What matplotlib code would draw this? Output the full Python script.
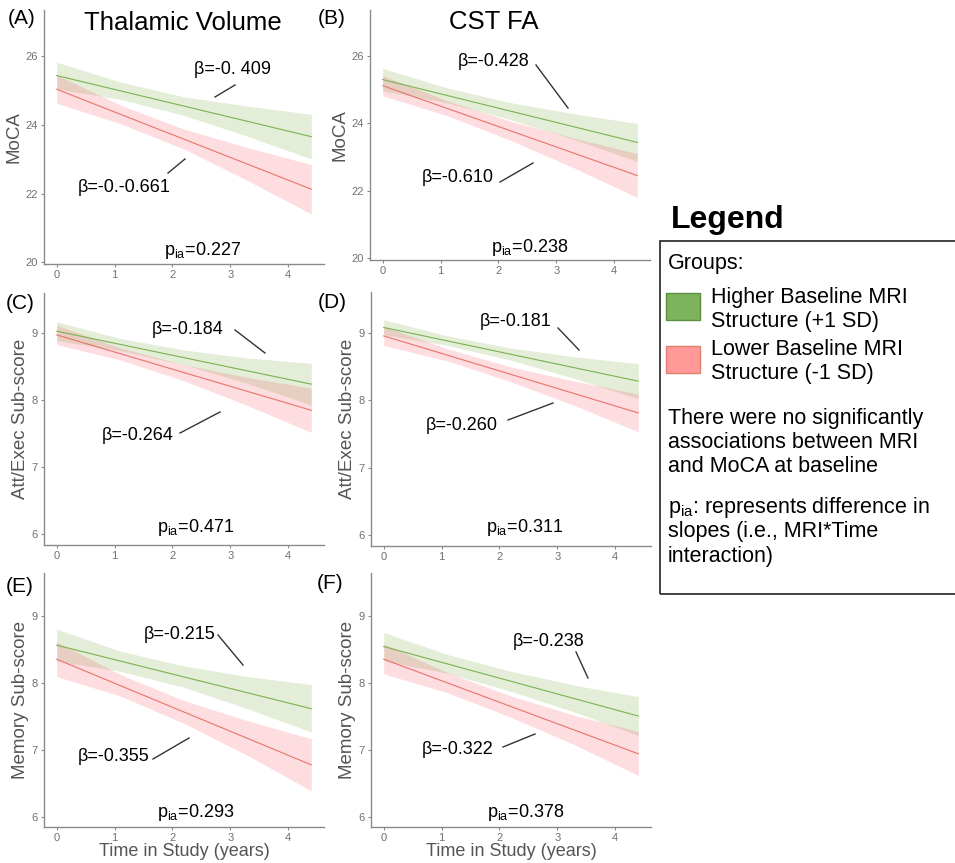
import matplotlib
matplotlib.use("Agg")
import matplotlib.pyplot as plt
from matplotlib.patches import Rectangle
from matplotlib.lines import Line2D

plt.rcParams['font.family'] = ['Liberation Sans', 'DejaVu Sans']
plt.rcParams['mathtext.fontset'] = 'custom'
plt.rcParams['mathtext.rm'] = 'Liberation Sans'
plt.rcParams['mathtext.it'] = 'Liberation Sans'

# ---- data ----
TIME = [0, 1.1, 2.2, 3.3, 4.4]          # points where the CI bands were read
LINE_T = [0, 4.4]                       # fitted lines run over the study period
X_TICKS = [0, 1, 2, 3, 4]
MOCA_TICKS = [20, 22, 24, 26]
SUB_TICKS = [6, 7, 8, 9]

# (A) Thalamic volume -> MoCA
A_HIGH_LINE = [25.44, 23.66]
A_HIGH_LO = [25.05, 24.75, 24.28, 23.67, 23.01]
A_HIGH_HI = [25.83, 25.25, 24.82, 24.55, 24.31]
A_LOW_LINE = [25.04, 22.13]
A_LOW_LO = [24.63, 24.04, 23.30, 22.38, 21.41]
A_LOW_HI = [25.45, 24.58, 23.88, 23.34, 22.85]

# (B) CST FA -> MoCA
B_HIGH_LINE = [25.29, 23.43]
B_HIGH_LO = [24.96, 24.61, 24.11, 23.52, 22.87]
B_HIGH_HI = [25.62, 25.05, 24.61, 24.28, 23.99]
B_LOW_LINE = [25.11, 22.45]
B_LOW_LO = [24.81, 24.23, 23.50, 22.68, 21.80]
B_LOW_HI = [25.41, 24.67, 24.06, 23.56, 23.10]

# (C) Thalamic volume -> Att/Exec
C_HIGH_LINE = [9.03, 8.24]
C_HIGH_LO = [8.89, 8.74, 8.53, 8.25, 7.93]
C_HIGH_HI = [9.17, 8.92, 8.75, 8.63, 8.55]
C_LOW_LINE = [8.975, 7.85]
C_LOW_LO = [8.83, 8.60, 8.29, 7.92, 7.52]
C_LOW_HI = [9.12, 8.78, 8.53, 8.34, 8.18]

# (D) CST FA -> Att/Exec
D_HIGH_LINE = [9.075, 8.28]
D_HIGH_LO = [8.97, 8.81, 8.59, 8.32, 8.02]
D_HIGH_HI = [9.19, 8.95, 8.77, 8.64, 8.54]
D_LOW_LINE = [8.95, 7.81]
D_LOW_LO = [8.81, 8.58, 8.27, 7.92, 7.53]
D_LOW_HI = [9.09, 8.76, 8.49, 8.28, 8.09]

# (E) Thalamic volume -> Memory
E_HIGH_LINE = [8.57, 7.62]
E_HIGH_LO = [8.33, 8.18, 7.94, 7.62, 7.27]
E_HIGH_HI = [8.81, 8.48, 8.26, 8.10, 7.98]
E_LOW_LINE = [8.36, 6.78]
E_LOW_LO = [8.10, 7.81, 7.40, 6.92, 6.39]
E_LOW_HI = [8.62, 8.13, 7.74, 7.44, 7.17]

# (F) CST FA -> Memory
F_HIGH_LINE = [8.55, 7.51]
F_HIGH_LO = [8.34, 8.15, 7.88, 7.57, 7.22]
F_HIGH_HI = [8.76, 8.43, 8.18, 7.97, 7.80]
F_LOW_LINE = [8.36, 6.945]
F_LOW_LO = [8.14, 7.86, 7.49, 7.08, 6.62]
F_LOW_HI = [8.59, 8.16, 7.81, 7.52, 7.28]

BETA_HIGH = ['β=-0. 409', 'β=-0.428', 'β=-0.184', 'β=-0.181', 'β=-0.215', 'β=-0.238']
BETA_LOW = ['β=-0.-0.661', 'β=-0.610', 'β=-0.264', 'β=-0.260', 'β=-0.355', 'β=-0.322']
P_IA = ['0.227', '0.238', '0.471', '0.311', '0.293', '0.378']
PANEL_TAGS = ['(A)', '(B)', '(C)', '(D)', '(E)', '(F)']
Y_LABELS = ['MoCA', 'MoCA', 'Att/Exec Sub-score', 'Att/Exec Sub-score',
            'Memory Sub-score', 'Memory Sub-score']

# ---- styling ----
W, H = 955, 863
GREEN_FILL = '#73A53C'
PINK_FILL = '#F55564'
GREEN_LINE = '#7BB250'
PINK_LINE = '#E8736C'
AXIS_GREY = '#8a8a8a'
TICK_GREY = '#707070'
LABEL_GREY = '#555555'

fig = plt.figure(figsize=(W / 100, H / 100), dpi=100)


def fx(x):
    return x / W


def fy(y):
    return 1 - y / H


def add_panel(left, top, right, bottom):
    return fig.add_axes([fx(left), fy(bottom), (right - left) / W, (bottom - top) / H])


def seg(x0, y0, x1, y1):
    fig.add_artist(Line2D([fx(x0), fx(x1)], [fy(y0), fy(y1)],
                          transform=fig.transFigure, color='#333333', lw=1.0))


panels = [
    (A_HIGH_LINE, A_HIGH_LO, A_HIGH_HI, A_LOW_LINE, A_LOW_LO, A_LOW_HI),
    (B_HIGH_LINE, B_HIGH_LO, B_HIGH_HI, B_LOW_LINE, B_LOW_LO, B_LOW_HI),
    (C_HIGH_LINE, C_HIGH_LO, C_HIGH_HI, C_LOW_LINE, C_LOW_LO, C_LOW_HI),
    (D_HIGH_LINE, D_HIGH_LO, D_HIGH_HI, D_LOW_LINE, D_LOW_LO, D_LOW_HI),
    (E_HIGH_LINE, E_HIGH_LO, E_HIGH_HI, E_LOW_LINE, E_LOW_LO, E_LOW_HI),
    (F_HIGH_LINE, F_HIGH_LO, F_HIGH_HI, F_LOW_LINE, F_LOW_LO, F_LOW_HI),
]

# pixel boxes of each panel: left, top, right, bottom
boxes = [(44, 10, 324, 264), (370, 10, 650, 260),
         (44, 293, 324, 545), (371, 292, 651, 546),
         (44, 573, 324, 827), (371, 573, 651, 827)]
ylims = [(19.95, 27.35), (19.95, 27.35), (5.84, 9.6), (5.84, 9.6),
         (5.85, 9.65), (5.85, 9.65)]

# text positions (pixels)
tag_pos = [(22, 19), (332, 19), (20, 303), (332, 302), (20, 586), (330, 583)]
bh_pos = [(232, 69), (494, 62), (188, 329), (516, 321), (180, 634), (549, 641)]
bl_pos = [(124, 187), (458, 177), (138, 435), (462, 425), (114, 756), (458, 750)]
bh_seg = [(235, 85, 215, 97), (536, 65, 568, 108), (235, 330, 265, 353),
          (558, 328, 579, 350), (218, 635, 243, 665), (576, 652, 588, 678)]
bl_seg = [(168, 173, 185, 159), (500, 182, 533, 163), (180, 433, 220, 412),
          (508, 420, 553, 403), (153, 759, 189, 738), (503, 747, 535, 734)]
p_pos = [(203, 250), (530, 247), (196, 528), (525, 527), (196, 812), (526, 812)]

for i, (hl, hlo, hhi, ll, llo, lhi) in enumerate(panels):
    ax = add_panel(*boxes[i])
    ax.fill_between(TIME, hlo, hhi, color=GREEN_FILL, alpha=0.2, lw=0)
    ax.fill_between(TIME, llo, lhi, color=PINK_FILL, alpha=0.2, lw=0)
    ax.plot(LINE_T, hl, color=GREEN_LINE, lw=0.8)
    ax.plot(LINE_T, ll, color=PINK_LINE, lw=0.8)

    ax.set_xlim(-0.22, 4.62)
    ax.set_ylim(*ylims[i])
    ax.set_xticks(X_TICKS)
    ax.set_yticks(MOCA_TICKS if i < 2 else SUB_TICKS)
    for side in ['top', 'right']:
        ax.spines[side].set_visible(False)
    for side in ['left', 'bottom']:
        ax.spines[side].set_color(AXIS_GREY)
        ax.spines[side].set_linewidth(1.0)
    ax.tick_params(colors=AXIS_GREY, labelcolor=TICK_GREY, labelsize=8,
                   length=2.5, width=0.8, pad=2)
    ax.set_ylabel(Y_LABELS[i], fontsize=13.5, color=LABEL_GREY, labelpad=2)
    if i >= 4:
        ax.set_xlabel('Time in Study (years)', fontsize=13, color=LABEL_GREY,
                      labelpad=0)

    fig.text(fx(tag_pos[i][0]), fy(tag_pos[i][1]), PANEL_TAGS[i], fontsize=15,
             ha='center', va='center')
    fig.text(fx(bh_pos[i][0]), fy(bh_pos[i][1]), BETA_HIGH[i], fontsize=13,
             ha='center', va='center')
    fig.text(fx(bl_pos[i][0]), fy(bl_pos[i][1]), BETA_LOW[i], fontsize=13,
             ha='center', va='center')
    seg(*bh_seg[i])
    seg(*bl_seg[i])
    fig.text(fx(p_pos[i][0]), fy(p_pos[i][1]), r'p$_{\mathrm{ia}}$=' + P_IA[i],
             fontsize=13, ha='center', va='center')

# column titles
fig.text(fx(183), fy(23), 'Thalamic Volume', fontsize=18.5, ha='center', va='center')
fig.text(fx(494), fy(22), 'CST FA', fontsize=18.5, ha='center', va='center')

# ---- legend panel ----
fig.text(fx(671), fy(220), 'Legend', fontsize=23, fontweight='bold',
         ha='left', va='center')
fig.add_artist(Rectangle((fx(660), fy(594)), (970 - 660) / W, (594 - 241) / H,
                         transform=fig.transFigure, fill=False,
                         edgecolor='#222222', lw=1.2))
lx = 668
fs = 15.5
fig.text(fx(lx), fy(264), 'Groups:', fontsize=fs, ha='left', va='center')
fig.add_artist(Rectangle((fx(666), fy(320)), 34 / W, 27 / H,
                         transform=fig.transFigure, facecolor='#7DB35C',
                         edgecolor='#5C8F40', lw=1))
fig.add_artist(Rectangle((fx(666), fy(373)), 34 / W, 27 / H,
                         transform=fig.transFigure, facecolor='#FF9A98',
                         edgecolor='#E0806E', lw=1))
fig.text(fx(711), fy(297), 'Higher Baseline MRI', fontsize=fs, ha='left', va='center')
fig.text(fx(711), fy(321), 'Structure (+1 SD)', fontsize=fs, ha='left', va='center')
fig.text(fx(711), fy(349), 'Lower Baseline MRI', fontsize=fs, ha='left', va='center')
fig.text(fx(711), fy(373), 'Structure (-1 SD)', fontsize=fs, ha='left', va='center')
legend_notes = [(418, 'There were no significantly'),
                (442, 'associations between MRI'),
                (466, 'and MoCA at baseline'),
                (508, r'p$_{\mathrm{ia}}$: represents difference in'),
                (532, 'slopes (i.e., MRI*Time'),
                (556, 'interaction)')]
for y, s in legend_notes:
    fig.text(fx(lx), fy(y), s, fontsize=fs, ha='left', va='center')

fig.savefig('out.png', dpi=100)
